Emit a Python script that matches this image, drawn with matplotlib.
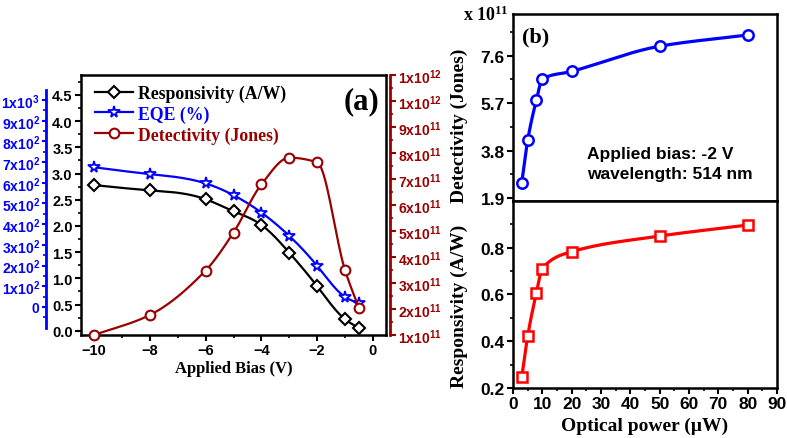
import numpy as np
import matplotlib
matplotlib.use('Agg')
import matplotlib.pyplot as plt
from matplotlib.ticker import MultipleLocator, FixedLocator

# Datos panel (a)
bias = [-10, -8, -6, -5, -4, -3, -2, -1, -0.5]
resp_a = [2.78, 2.68, 2.51, 2.28, 2.02, 1.49, 0.85, 0.22, 0.06]
eqe_a = [675, 642, 597, 540, 456, 343, 198, 48, 19]
det_a = [1.0e11, 1.77e11, 3.48e11, 4.94e11, 6.79e11, 7.82e11, 7.64e11, 3.49e11, 2.03e11]

# Datos panel (b)
power = [3, 5, 8, 10, 20, 50, 80]
det_b = [2.52, 4.21, 5.83, 6.66, 6.97, 7.98, 8.43]
resp_b = [0.247, 0.421, 0.608, 0.711, 0.783, 0.85, 0.897]

blue_labels = ['0'] + [r'$\mathrm{%dx10^{2}}$' % i for i in range(1, 10)] + [r'$\mathrm{1x10^{3}}$']
red_labels = [r'$\mathrm{%dx10^{11}}$' % i for i in range(1, 10)] + [r'$\mathrm{1x10^{12}}$'] * 2

plt.rcParams['font.family'] = 'Liberation Sans'
plt.rcParams['font.weight'] = 'bold'
plt.rcParams['mathtext.fontset'] = 'custom'
plt.rcParams['mathtext.rm'] = 'Liberation Sans:bold'
plt.rcParams['mathtext.sf'] = 'Liberation Serif:bold'
serif = 'Liberation Serif'

DARKRED = '#990000'


def spline(x, y, n=300):
    # spline cubica natural solo para dibujar la linea suave
    x = np.asarray(x, float)
    y = np.asarray(y, float)
    k = len(x)
    h = np.diff(x)
    A = np.zeros((k, k))
    b = np.zeros(k)
    A[0, 0] = A[-1, -1] = 1
    for i in range(1, k - 1):
        A[i, i - 1] = h[i - 1]
        A[i, i] = 2 * (h[i - 1] + h[i])
        A[i, i + 1] = h[i]
        b[i] = 3 * ((y[i + 1] - y[i]) / h[i] - (y[i] - y[i - 1]) / h[i - 1])
    c = np.linalg.solve(A, b)
    xs = np.linspace(x[0], x[-1], n)
    idx = np.clip(np.searchsorted(x, xs) - 1, 0, k - 2)
    d = xs - x[idx]
    bb = (y[idx + 1] - y[idx]) / h[idx] - h[idx] * (2 * c[idx] + c[idx + 1]) / 3
    dd = (c[idx + 1] - c[idx]) / (3 * h[idx])
    return xs, y[idx] + bb * d + c[idx] * d ** 2 + dd * d ** 3


def pchip(x, y, n=300):
    x = np.asarray(x, float)
    y = np.asarray(y, float)
    h = np.diff(x)
    dl = np.diff(y) / h
    m = np.zeros(len(x))
    m[0], m[-1] = dl[0], dl[-1]
    for i in range(1, len(x) - 1):
        if dl[i - 1] * dl[i] > 0:
            w1 = 2 * h[i] + h[i - 1]
            w2 = h[i] + 2 * h[i - 1]
            m[i] = (w1 + w2) / (w1 / dl[i - 1] + w2 / dl[i])
    xs = np.linspace(x[0], x[-1], n)
    idx = np.clip(np.searchsorted(x, xs) - 1, 0, len(x) - 2)
    t = (xs - x[idx]) / h[idx]
    h00 = 2 * t ** 3 - 3 * t ** 2 + 1
    h10 = t ** 3 - 2 * t ** 2 + t
    h01 = -2 * t ** 3 + 3 * t ** 2
    h11 = t ** 3 - t ** 2
    ys = h00 * y[idx] + h10 * h[idx] * m[idx] + h01 * y[idx + 1] + h11 * h[idx] * m[idx + 1]
    return xs, ys


def style(ax, color='black', size=10):
    ax.tick_params(which='major', direction='out', length=4, width=1.5, labelsize=size,
                   colors=color, pad=2)
    ax.tick_params(which='minor', direction='out', length=2.5, width=1.2, colors=color)


fig = plt.figure(figsize=(7.87, 4.39), dpi=100)

# ---------------- Panel (a) ----------------
ax = fig.add_axes([0.1029, 0.2346, 0.3876, 0.5923])
for s in ax.spines.values():
    s.set_linewidth(1.8)
xs, ys = spline(bias, resp_a)
ax.plot(xs, ys, color='black', lw=1.6)
ax.plot(bias, resp_a, 'D', mfc='white', mec='black', mew=1.5, ms=6.5)
ax.set_xlim(-10.47, 0.47)
ax.set_ylim(-0.08, 4.88)
ax.xaxis.set_major_locator(MultipleLocator(2))
ax.xaxis.set_minor_locator(MultipleLocator(1))
ax.yaxis.set_minor_locator(MultipleLocator(0.25))
ax.set_yticks(np.arange(0, 4.51, 0.5))
ax.set_yticklabels(['%.1f' % v for v in np.arange(0, 4.51, 0.5)])
style(ax, size=10.5)
ax.set_xlabel('Applied Bias (V)', family=serif, fontsize=12, fontweight='bold', labelpad=2)

# eje azul EQE
axb = ax.twinx()
axb.spines['right'].set_visible(False)
axb.spines['left'].set_visible(True)
axb.spines['left'].set_position(('axes', -0.115))
axb.spines['left'].set_color('blue')
axb.spines['left'].set_linewidth(2)
axb.yaxis.set_ticks_position('left')
axb.yaxis.set_label_position('left')
axb.set_ylim(-136, 1121)
axb.spines['left'].set_bounds(-102, 1049)
axb.set_yticks(np.arange(0, 1001, 100))
axb.set_yticklabels(blue_labels)
axb.yaxis.set_minor_locator(FixedLocator(np.arange(-50, 1050, 50)))
style(axb, 'blue', 10)
axb.tick_params(which='major', length=3, pad=1.5)
axb.tick_params(which='minor', length=2)
for sp in ['top', 'bottom']:
    axb.spines[sp].set_visible(False)
xs, ys = spline(bias, eqe_a)
axb.plot(xs, ys, color='blue', lw=1.6)
axb.plot(bias, eqe_a, '*', mfc='white', mec='blue', mew=1.3, ms=8.5)

# eje rojo detectividad
axr = ax.twinx()
axr.spines['right'].set_position(('axes', 1.013))
axr.spines['right'].set_color(DARKRED)
axr.spines['right'].set_linewidth(2)
for sp in ['top', 'bottom', 'left']:
    axr.spines[sp].set_visible(False)
axr.set_ylim(1e11, 1.1e12)
axr.set_yticks(np.arange(1, 11.5, 1) * 1e11)
axr.set_yticklabels(red_labels)
axr.yaxis.set_minor_locator(FixedLocator(np.arange(1.5, 11, 1) * 1e11))
style(axr, DARKRED, 10)
xs, ys = pchip(bias, det_a)
axr.plot(xs, ys, color=DARKRED, lw=1.6, clip_on=True)
axr.plot(bias, det_a, 'o', mfc='white', mec=DARKRED, mew=1.5, ms=7, clip_on=False)

# leyenda
h1, = ax.plot([], [], '-D', color='black', mfc='white', mew=1.5, ms=6.5, lw=1.6)
h2, = ax.plot([], [], '-*', color='blue', mfc='white', mew=1.3, ms=8.5, lw=1.6)
h3, = ax.plot([], [], '-o', color=DARKRED, mfc='white', mew=1.5, ms=7, lw=1.6)
leg = axr.legend([h1, h2, h3], ['Responsivity (A/W)', 'EQE (%)', 'Detectivity (Jones)'],
                 loc='upper left', bbox_to_anchor=(-0.005, 1.025), frameon=False,
                 prop={'family': serif, 'weight': 'bold', 'size': 12.8},
                 handlelength=2.1, handletextpad=0.3, labelspacing=0.2,
                 labelcolor=['black', 'blue', DARKRED])
ax.text(0.92, 0.9, '(a)', transform=ax.transAxes, ha='center', va='center',
        family=serif, fontsize=22, fontweight='bold')

# ---------------- Panel (b) ----------------
ax1 = fig.add_axes([0.6518, 0.5399, 0.3355, 0.4259])
ax2 = fig.add_axes([0.6518, 0.1139, 0.3355, 0.4260])
for a in (ax1, ax2):
    for s in a.spines.values():
        s.set_linewidth(1.8)

xs, ys = pchip(power, det_b)
ax1.plot(xs, ys, color='blue', lw=2.3)
ax1.plot(power, det_b, 'o', mfc='white', mec='blue', mew=1.8, ms=7.5)
ax1.set_xlim(0, 90)
ax1.set_ylim(1.78, 9.27)
ax1.set_yticks([1.9, 3.8, 5.7, 7.6])
ax1.yaxis.set_minor_locator(FixedLocator([2.85, 4.75, 6.65, 8.55]))
ax1.set_xticks([])
style(ax1, size=12.5)
ax1.set_ylabel('Detectivity (Jones)', family=serif, fontsize=14, fontweight='bold')
ax1.yaxis.set_label_coords(-0.172, 0.41)
ax1.text(-0.19, 1.0, r'x $\mathsf{10^{11}}$', transform=ax1.transAxes, ha='left', va='center',
         family=serif, fontsize=13, fontweight='bold')
ax1.text(0.035, 0.88, '(b)', transform=ax1.transAxes, ha='left', va='center',
         family=serif, fontsize=16, fontweight='bold')
ax1.text(0.28, 0.2, 'Applied bias: -2 V\nwavelength: 514 nm', transform=ax1.transAxes,
         ha='left', va='center', fontsize=12.5, fontweight='bold', linespacing=1.4)

xs, ys = pchip(power, resp_b)
ax2.plot(xs, ys, color='red', lw=2.3)
ax2.plot(power, resp_b, 's', mfc='white', mec='red', mew=1.8, ms=7)
ax2.set_xlim(0, 90)
ax2.set_ylim(0.2, 1.0)
ax2.set_yticks([0.2, 0.4, 0.6, 0.8])
ax2.yaxis.set_minor_locator(FixedLocator([0.3, 0.5, 0.7, 0.9]))
ax2.xaxis.set_major_locator(MultipleLocator(10))
ax2.xaxis.set_minor_locator(MultipleLocator(5))
style(ax2, size=12.5)
ax2.set_ylabel('Responsivity (A/W)', family=serif, fontsize=14, fontweight='bold')
ax2.yaxis.set_label_coords(-0.172, 0.44)
ax2.set_xlabel('Optical power (\u00b5W)', family=serif, fontsize=14, fontweight='bold', labelpad=4)

fig.savefig('out.png', dpi=100)
